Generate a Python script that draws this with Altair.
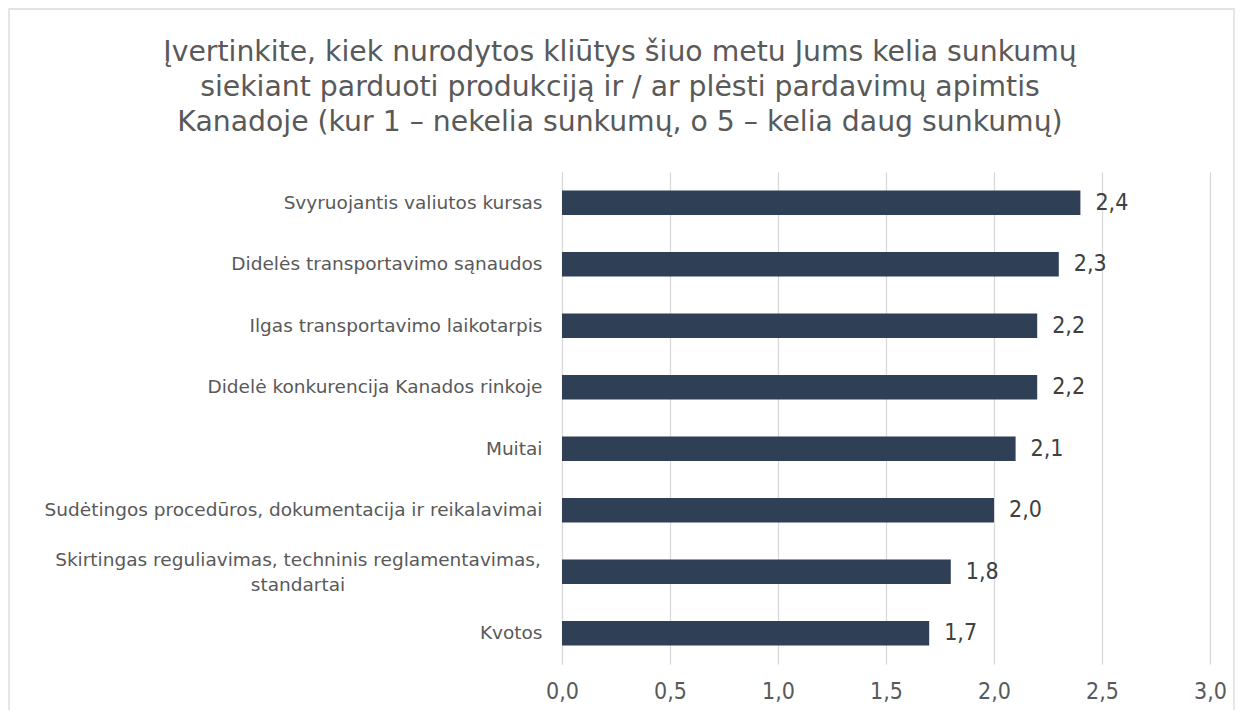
import altair as alt
import pandas as pd

categories = [
    "Svyruojantis valiutos kursas",
    "Didelės transportavimo sąnaudos",
    "Ilgas transportavimo laikotarpis",
    "Didelė konkurencija Kanados rinkoje",
    "Muitai",
    "Sudėtingos procedūros, dokumentacija ir reikalavimai",
    "Skirtingas reguliavimas, techninis reglamentavimas, standartai",
    "Kvotos",
]
values = [2.4, 2.3, 2.2, 2.2, 2.1, 2.0, 1.8, 1.7]
x_ticks = [0.0, 0.5, 1.0, 1.5, 2.0, 2.5, 3.0]
wrapped_cat = "Skirtingas reguliavimas, techninis reglamentavimas, standartai"
wrapped_lines = ["Skirtingas reguliavimas, techninis reglamentavimas,", "standartai"]
title_lines = [
    "Įvertinkite, kiek nurodytos kliūtys šiuo metu Jums kelia sunkumų",
    "siekiant parduoti produkciją ir / ar plėsti pardavimų apimtis",
    "Kanadoje (kur 1 – nekelia sunkumų, o 5 – kelia daug sunkumų)",
]

df = pd.DataFrame({"cat": categories, "val": values})
df_wrap = pd.DataFrame({"cat": [wrapped_cat], "lines": [wrapped_lines]})

FONT = "DejaVu Sans"
NUMFONT = "DejaVu Sans Condensed"
W, H = 648, 492
PAD = {"left": 554, "top": 164, "right": 25, "bottom": 46}

label_expr = f"datum.value == '{wrapped_cat}' ? '' : datum.value"

y_enc = alt.Y(
    "cat:N",
    sort=categories,
    title=None,
    scale=alt.Scale(paddingInner=0.6, paddingOuter=0.3),
    axis=alt.Axis(
        labelExpr=label_expr,
        labelFontSize=18.5,
        labelFont=FONT,
        labelColor="#595959",
        labelPadding=20,
        labelLimit=0,
        ticks=False,
        domain=True,
        domainColor="#d9d9d9",
        grid=False,
    ),
)
x_enc = alt.X(
    "val:Q",
    title=None,
    scale=alt.Scale(domain=[0, 3]),
    axis=alt.Axis(
        values=x_ticks,
        labelExpr="replace(format(datum.value, '.1f'), '.', ',')",
        labelFontSize=23,
        labelFont=NUMFONT,
        labelColor="#595959",
        labelPadding=16,
        labelFlush=False,
        ticks=False,
        domain=False,
        grid=True,
        gridColor="#d9d9d9",
        gridWidth=1.3,
    ),
)

border = alt.Chart(pd.DataFrame({"a": [0]})).mark_rect(
    fill=None, stroke="#d9d9d9", strokeWidth=1.3
).encode(
    x=alt.value(-553), x2=alt.value(W + 24), y=alt.value(-163), y2=alt.value(H + 70)
)

title = alt.Chart(pd.DataFrame({"t": [title_lines]})).mark_text(
    align="center", baseline="middle", fontSize=28.3, font=FONT, color="#595959",
    lineHeight=35,
).encode(x=alt.value(58), y=alt.value(-119), text="t")

bars = alt.Chart(df).mark_bar(color="#2E3F56").encode(x=x_enc, y=y_enc)

labels = (
    alt.Chart(df)
    .transform_calculate(lab="replace(format(datum.val, '.1f'), '.', ',')")
    .mark_text(align="left", baseline="middle", dx=15, fontSize=23, font=NUMFONT, color="#404040")
    .encode(x="val:Q", y=alt.Y("cat:N", sort=categories), text="lab:N")
)

wrap_label = (
    alt.Chart(df_wrap)
    .mark_text(align="center", baseline="middle", fontSize=18.5, font=FONT,
               color="#595959", lineHeight=25, dy=-12)
    .encode(x=alt.value(-264), y=alt.Y("cat:N", sort=categories), text="lines")
)

chart = (
    alt.layer(border, title, bars, labels, wrap_label)
    .properties(
        width=W,
        height=H,
        padding=PAD,
        autosize=alt.AutoSizeParams(type="none"),
    )
    .configure_view(stroke=None)
)

chart.save("out.html", embed_options={"renderer": "svg", "actions": False})
